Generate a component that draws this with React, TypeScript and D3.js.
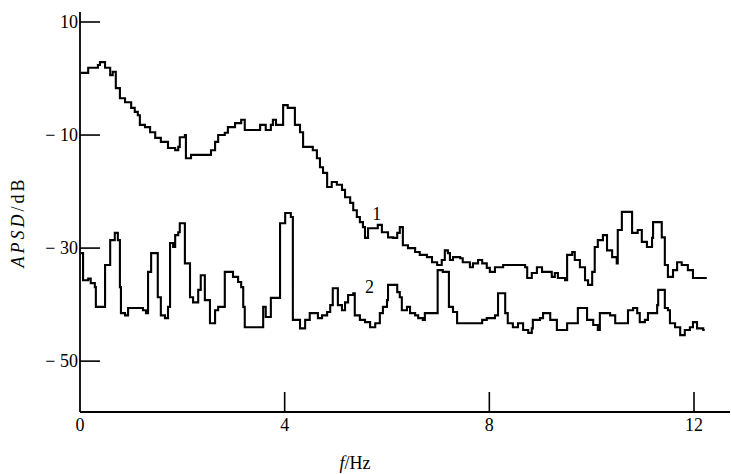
import React from "react";
import * as d3 from "d3";

// Curve 1: frequency (Hz) and APSD (dB) at each step
const freq1 = [0.02,0.16,0.35,0.39,0.49,0.59,0.64,0.70,0.78,0.88,1.00,1.07,1.13,1.17,1.27,1.37,1.47,1.58,1.72,1.86,1.92,1.95,2.05,2.07,2.17,2.56,2.64,2.70,2.83,2.89,3.03,3.15,3.22,3.52,3.63,3.73,3.77,3.83,3.97,4.06,4.20,4.30,4.36,4.55,4.63,4.69,4.75,4.83,4.92,5.02,5.12,5.18,5.28,5.34,5.41,5.47,5.53,5.57,5.63,5.82,5.90,6.02,6.12,6.20,6.25,6.31,6.41,6.55,6.64,6.78,6.88,6.98,7.07,7.13,7.19,7.23,7.29,7.43,7.48,7.62,7.68,7.78,7.86,7.95,8.01,8.11,8.27,8.70,8.74,8.83,8.93,9.03,9.22,9.28,9.34,9.48,9.52,9.62,9.67,9.77,9.87,9.93,10.01,10.06,10.12,10.22,10.30,10.40,10.49,10.51,10.59,10.79,10.90,10.98,11.08,11.18,11.20,11.37,11.43,11.49,11.59,11.67,11.76,11.88,11.98,12.25];
const apsd1 = [1.0,1.9,2.4,2.9,1.9,0.6,1.2,-1.7,-3.5,-4.2,-5.2,-5.9,-6.5,-8.2,-8.6,-9.5,-10.5,-11.2,-12.3,-12.7,-12.1,-10.4,-10.0,-14.1,-13.5,-12.7,-11.2,-10.0,-9.6,-8.6,-7.9,-7.3,-9.1,-8.2,-9.1,-8.2,-7.3,-8.2,-4.7,-5.2,-8.2,-9.5,-12.1,-12.7,-14.1,-15.7,-16.7,-19.2,-18.3,-18.8,-19.7,-21.0,-22.0,-23.3,-24.5,-25.4,-26.3,-28.2,-26.5,-25.9,-27.2,-28.1,-28.2,-27.3,-26.3,-29.5,-30.0,-30.7,-31.2,-31.6,-32.5,-33.0,-32.1,-30.4,-30.9,-32.1,-31.6,-31.8,-32.5,-33.4,-32.7,-32.1,-32.7,-33.5,-34.2,-33.4,-33.0,-33.4,-35.3,-34.4,-33.4,-34.2,-35.1,-34.4,-35.3,-35.7,-31.2,-30.7,-32.1,-33.4,-35.7,-36.5,-34.2,-29.8,-28.6,-27.7,-30.4,-31.6,-32.7,-26.8,-23.6,-27.3,-26.8,-28.9,-29.8,-28.2,-25.4,-28.1,-33.0,-35.1,-33.9,-32.5,-33.0,-33.9,-35.3,-35.3];

// Curve 2
const freq2 = [0.02,0.06,0.16,0.21,0.29,0.31,0.49,0.59,0.68,0.74,0.78,0.80,0.88,0.94,1.23,1.29,1.33,1.39,1.52,1.58,1.66,1.72,1.76,1.82,1.86,1.92,1.95,2.05,2.15,2.21,2.31,2.36,2.44,2.54,2.64,2.70,2.83,2.99,3.09,3.15,3.19,3.22,3.58,3.63,3.73,3.91,4.01,4.12,4.16,4.30,4.40,4.49,4.65,4.73,4.83,4.89,4.94,5.04,5.12,5.18,5.24,5.34,5.37,5.47,5.57,5.67,5.77,5.86,5.92,6.00,6.02,6.20,6.25,6.29,6.39,6.45,6.55,6.61,6.70,6.74,6.99,7.09,7.21,7.29,7.37,7.86,7.95,8.11,8.17,8.31,8.36,8.46,8.56,8.66,8.76,8.83,8.85,8.99,9.05,9.19,9.32,9.52,9.73,9.91,10.03,10.12,10.16,10.36,10.46,10.71,10.81,10.89,10.94,11.04,11.10,11.28,11.30,11.43,11.49,11.53,11.63,11.73,11.82,11.92,11.98,12.06,12.18,12.21];
const apsd2 = [-30.9,-35.7,-35.4,-36.2,-36.9,-40.4,-33.0,-28.6,-27.3,-28.6,-36.9,-41.5,-41.9,-40.6,-41.0,-41.5,-34.2,-30.9,-38.7,-41.9,-42.4,-40.4,-29.1,-29.8,-27.7,-27.2,-25.6,-32.7,-38.7,-39.6,-37.4,-34.8,-39.2,-43.3,-41.0,-40.4,-34.2,-35.1,-36.0,-36.9,-40.4,-44.0,-40.4,-42.2,-38.8,-25.6,-23.8,-24.5,-42.7,-44.2,-42.7,-41.5,-42.4,-41.9,-41.3,-40.1,-37.1,-40.1,-41.0,-39.6,-38.3,-38.0,-41.9,-42.7,-43.1,-44.0,-43.3,-41.5,-40.4,-39.2,-36.5,-37.8,-38.7,-41.0,-40.4,-41.5,-41.9,-42.4,-42.7,-41.5,-33.9,-34.2,-40.4,-41.3,-43.3,-42.7,-42.4,-41.9,-38.0,-41.5,-43.3,-44.0,-43.3,-44.5,-45.0,-44.2,-42.7,-42.4,-41.5,-42.7,-44.5,-43.3,-40.6,-42.7,-43.6,-44.5,-41.5,-41.9,-43.3,-41.0,-40.6,-41.5,-43.1,-42.7,-41.5,-40.1,-37.4,-40.6,-41.0,-43.3,-44.0,-45.4,-44.5,-44.0,-43.1,-44.2,-44.5,-44.5];

const yTicks = [10, -10, -30, -50];
const yTickLabels = ["10", "− 10", "− 30", "− 50"];
const xTicks = [0, 4, 8, 12];
const xTickLabels = ["0", "4", "8", "12"];
const curveLabels = [
  { text: "1", f: 5.8, db: -24.0 },
  { text: "2", f: 5.66, db: -36.9 },
];

export default function App() {
  const W = 731, H = 474;
  const x = d3.scaleLinear().domain([0, 12]).range([80, 694]);
  const y = d3.scaleLinear().domain([-59, 10]).range([412, 22]);
  const line = d3
    .line<[number, number]>()
    .x((d) => x(d[0]))
    .y((d) => y(d[1]))
    .curve(d3.curveStepAfter);
  const d1 = line(freq1.map((f, i) => [f, apsd1[i]] as [number, number])) || "";
  const d2 = line(freq2.map((f, i) => [f, apsd2[i]] as [number, number])) || "";
  const font = "'Liberation Serif', 'DejaVu Serif', serif";
  const x0 = x(0);
  const yb = y(-59);
  return (
    <svg
      width={W}
      height={H}
      viewBox={`0 0 ${W} ${H}`}
      style={{ position: "absolute", left: 0, top: 0, background: "#fff" }}
    >
      <rect width={W} height={H} fill="#fff" />
      {/* axes */}
      <line x1={x0} y1={yb} x2={x0} y2={y(10) - 10} stroke="#000" strokeWidth={1.8} />
      <line x1={x0} y1={yb} x2={730} y2={yb} stroke="#000" strokeWidth={1.8} />
      {yTicks.map((t, i) => (
        <g key={"yt" + t}>
          <line x1={x0} x2={x0 + 20} y1={y(t)} y2={y(t)} stroke="#000" strokeWidth={1.6} />
          <text x={78} y={y(t)} dy="0.35em" textAnchor="end" fontFamily={font} fontSize={18} fill="#000">
            {yTickLabels[i]}
          </text>
        </g>
      ))}
      {xTicks.map((t, i) => (
        <g key={"xt" + t}>
          {t !== 0 && (
            <line x1={x(t)} x2={x(t)} y1={yb} y2={yb - 20} stroke="#000" strokeWidth={1.6} />
          )}
          <text x={x(t)} y={yb + 19} textAnchor="middle" fontFamily={font} fontSize={18} fill="#000">
            {xTickLabels[i]}
          </text>
        </g>
      ))}
      {/* axis titles */}
      <text x={355} y={469} textAnchor="middle" fontFamily={font} fontSize={18} fill="#000">
        <tspan fontStyle="italic">f</tspan>
        <tspan>/Hz</tspan>
      </text>
      <text
        transform="translate(24,222) rotate(-90)"
        textAnchor="middle"
        fontFamily={font}
        fontSize={18}
        letterSpacing={3}
        fill="#000"
      >
        <tspan fontStyle="italic">APSD</tspan>
        <tspan>/dB</tspan>
      </text>
      {/* curves */}
      <path d={d1} fill="none" stroke="#000" strokeWidth={2.1} strokeLinejoin="miter" />
      <path d={d2} fill="none" stroke="#000" strokeWidth={2.1} strokeLinejoin="miter" />
      {curveLabels.map((c) => (
        <text key={c.text} x={x(c.f)} y={y(c.db)} dy="0.35em" textAnchor="middle" fontFamily={font} fontSize={18} fill="#000">
          {c.text}
        </text>
      ))}
    </svg>
  );
}
